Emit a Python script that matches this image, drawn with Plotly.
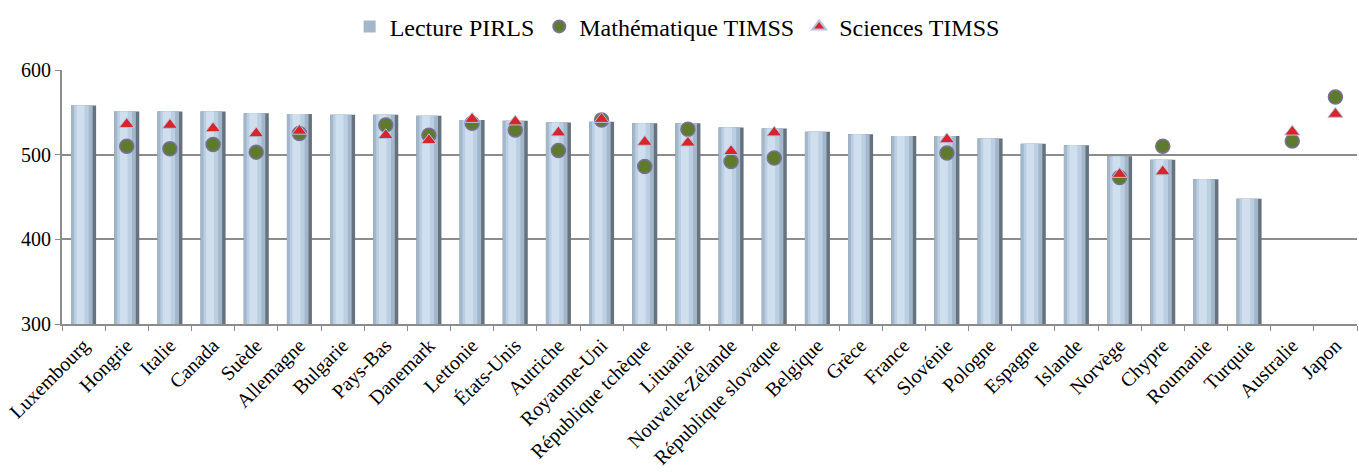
import plotly.graph_objects as go

categories = ["Luxembourg", "Hongrie", "Italie", "Canada", "Suède", "Allemagne", "Bulgarie",
              "Pays-Bas", "Danemark", "Lettonie", "États-Unis", "Autriche", "Royaume-Uni",
              "République tchèque", "Lituanie", "Nouvelle-Zélande", "République slovaque",
              "Belgique", "Grèce", "France", "Slovénie", "Pologne", "Espagne", "Islande",
              "Norvège", "Chypre", "Roumanie", "Turquie", "Australie", "Japon"]

lecture_pirls = [558, 551, 551, 551, 549, 548, 547, 547, 546, 541, 540, 538, 539,
                 537, 537, 532, 531, 527, 524, 522, 522, 519, 513, 511,
                 498, 494, 471, 448, None, None]

math_timss = [None, 510, 507, 512, 503, 525, None, 535, 523, 537, 529, 505, 541,
              486, 530, 492, 496, None, None, None, 502, None, None, None,
              473, 510, None, None, 516, 568]

sciences_timss = [None, 536, 535, 531, 525, 528, None, 523, 517, 542, 539, 526, 542,
                  515, 514, 504, 526, None, None, None, 518, None, None, None,
                  477, 480, None, None, 527, 548]

y_ticks = [300, 400, 500, 600]

FONT = "Liberation Serif"

fig = go.Figure()

# cylinder-like bars built as overlaid layers of the same data
layers = [
    (0.58, -0.29, "#66737f", False),
    (0.50, -0.29, "#a3b7cb", True),
    (0.34, -0.22, "#bccfe2", False),
    (0.18, -0.16, "#cfdfee", False),
]
for w, off, col, leg in layers:
    fig.add_trace(go.Bar(
        x=categories, y=lecture_pirls, width=w, offset=off,
        marker=dict(color=col, line=dict(width=0)),
        name="Lecture PIRLS", showlegend=leg, legendrank=1,
        hoverinfo="skip" if not leg else None,
    ))

fig.add_trace(go.Scatter(
    x=categories, y=math_timss, mode="markers", name="Mathématique TIMSS",
    marker=dict(symbol="circle", size=14, color="#5e7a2b",
                line=dict(color="#7a6f9c", width=1.5)),
    legendrank=2,
))
fig.add_trace(go.Scatter(
    x=categories, y=sciences_timss, mode="markers", name="Sciences TIMSS",
    marker=dict(symbol="triangle-up", size=13, color="#d8242a",
                line=dict(color="#b5c2dc", width=1)),
    legendrank=3,
))

fig.update_layout(
    width=1359, height=472,
    margin=dict(l=62, r=2, t=70, b=145),
    paper_bgcolor="white", plot_bgcolor="white",
    barmode="overlay",
    font=dict(family=FONT, size=20, color="black"),
    legend=dict(orientation="h", x=0.475, xanchor="center", y=1.17, yanchor="middle",
                font=dict(family=FONT, size=24, color="black"),
                itemsizing="constant", tracegroupgap=0, itemwidth=30),
    showlegend=True,
)

fig.update_xaxes(
    type="category", tickangle=-45, tickfont=dict(family=FONT, size=20),
    showline=True, linecolor="#8c8c8c", linewidth=2,
    ticks="outside", tickson="boundaries", ticklen=5, tickcolor="#8c8c8c", tickwidth=1,
    showgrid=False, range=[-0.5, len(categories) - 0.5],
)
fig.update_yaxes(
    range=[300, 600], tickvals=y_ticks, ticktext=[str(v) for v in y_ticks],
    tickfont=dict(family=FONT, size=20),
    showgrid=True, gridcolor="#8c8c8c", gridwidth=2,
    showline=True, linecolor="#8c8c8c", linewidth=2,
    ticks="outside", ticklen=5, tickcolor="#8c8c8c", zeroline=False,
)

fig.write_html("out.html")
